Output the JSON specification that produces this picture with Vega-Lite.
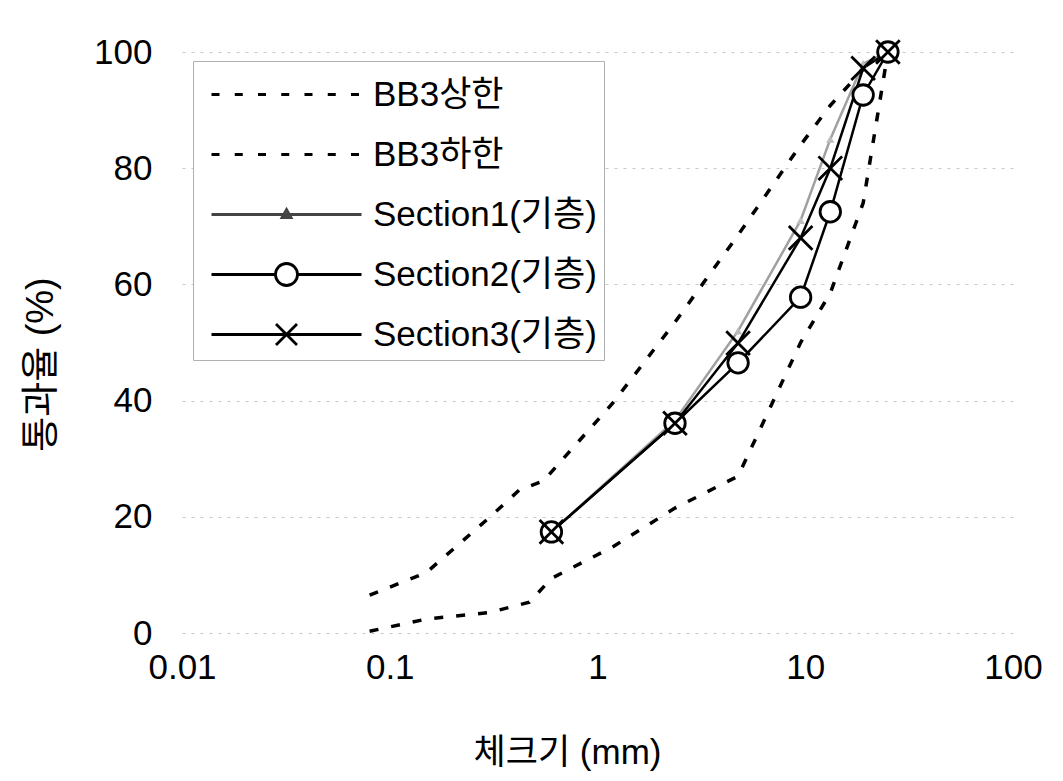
{
  "$schema": "https://vega.github.io/schema/vega-lite/v6.json",
  "width": 831,
  "height": 581,
  "autosize": {"type": "none"},
  "padding": {"left": 182, "top": 52, "right": 50, "bottom": 148},
  "background": "white",
  "config": {
    "view": {"stroke": null},
    "font": "Liberation Sans, Noto Sans CJK KR",
    "axis": {"labelColor": "black", "titleColor": "black", "titleFontWeight": "normal", "labelFont": "Liberation Sans, Noto Sans CJK KR", "titleFont": "Liberation Sans, Noto Sans CJK KR"}
  },
  "data": {
    "values": [
      {"series": "BB3상한", "size": 0.08, "pass": 6.5},
      {"series": "BB3상한", "size": 0.15, "pass": 10.4},
      {"series": "BB3상한", "size": 0.3, "pass": 19.8},
      {"series": "BB3상한", "size": 0.42, "pass": 24.6},
      {"series": "BB3상한", "size": 0.55, "pass": 26.2},
      {"series": "BB3상한", "size": 1.18, "pass": 39.5},
      {"series": "BB3상한", "size": 2.36, "pass": 53.5},
      {"series": "BB3상한", "size": 4.75, "pass": 68.5},
      {"series": "BB3상한", "size": 9.5, "pass": 84},
      {"series": "BB3상한", "size": 13.2, "pass": 90.8},
      {"series": "BB3상한", "size": 19, "pass": 97},
      {"series": "BB3상한", "size": 25, "pass": 100},
      {"series": "BB3하한", "size": 0.08, "pass": 0.3},
      {"series": "BB3하한", "size": 0.15, "pass": 2.4},
      {"series": "BB3하한", "size": 0.3, "pass": 3.5},
      {"series": "BB3하한", "size": 0.47, "pass": 5.3},
      {"series": "BB3하한", "size": 0.6, "pass": 9.4},
      {"series": "BB3하한", "size": 1.18, "pass": 14.8},
      {"series": "BB3하한", "size": 2.36, "pass": 21.5},
      {"series": "BB3하한", "size": 4.75, "pass": 27},
      {"series": "BB3하한", "size": 9.5, "pass": 50},
      {"series": "BB3하한", "size": 13.2, "pass": 58.5},
      {"series": "BB3하한", "size": 19, "pass": 74},
      {"series": "BB3하한", "size": 25, "pass": 100},
      {"series": "Section1(기층)", "size": 0.6, "pass": 17.4},
      {"series": "Section1(기층)", "size": 2.36, "pass": 36.6},
      {"series": "Section1(기층)", "size": 4.75, "pass": 52},
      {"series": "Section1(기층)", "size": 9.5, "pass": 71},
      {"series": "Section1(기층)", "size": 13.2, "pass": 85},
      {"series": "Section1(기층)", "size": 19, "pass": 98},
      {"series": "Section1(기층)", "size": 25, "pass": 100},
      {"series": "Section2(기층)", "size": 0.6, "pass": 17.4},
      {"series": "Section2(기층)", "size": 2.36, "pass": 36.1},
      {"series": "Section2(기층)", "size": 4.75, "pass": 46.5},
      {"series": "Section2(기층)", "size": 9.5, "pass": 57.8},
      {"series": "Section2(기층)", "size": 13.2, "pass": 72.5},
      {"series": "Section2(기층)", "size": 19, "pass": 92.6},
      {"series": "Section2(기층)", "size": 25, "pass": 100},
      {"series": "Section3(기층)", "size": 0.6, "pass": 17.4},
      {"series": "Section3(기층)", "size": 2.36, "pass": 36.1},
      {"series": "Section3(기층)", "size": 4.75, "pass": 49.9},
      {"series": "Section3(기층)", "size": 9.5, "pass": 68},
      {"series": "Section3(기층)", "size": 13.2, "pass": 80},
      {"series": "Section3(기층)", "size": 19, "pass": 97.2},
      {"series": "Section3(기층)", "size": 25, "pass": 100}
    ]
  },
  "encoding": {
    "x": {
      "field": "size", "type": "quantitative",
      "scale": {"type": "log", "domain": [0.01, 100], "nice": false},
      "axis": {
        "title": "체크기 (mm)", "values": [0.01, 0.1, 1, 10, 100], "format": "~g",
        "domain": false, "ticks": false, "grid": false, "labelFlush": false,
        "labelFontSize": 35, "labelPadding": 17, "titleFontSize": 35, "titlePadding": 50,
        "titleX": 385
      }
    },
    "y": {
      "field": "pass", "type": "quantitative",
      "scale": {"domain": [0, 100], "nice": false},
      "axis": {
        "title": "통과율 (%)", "values": [0, 20, 40, 60, 80, 100],
        "domain": false, "ticks": false, "grid": true, "gridColor": "#c8c8c8", "gridDash": [3, 6], "gridWidth": 1,
        "labelFontSize": 35, "labelPadding": 30, "titleFontSize": 38, "titlePadding": 33,
        "titleY": 312
      }
    }
  },
  "layer": [
    {
      "transform": [{"filter": "indexof(datum.series, 'BB3') == 0"}],
      "mark": {"type": "line", "color": "black", "strokeWidth": 3.5, "strokeDash": [9, 13]},
      "encoding": {"detail": {"field": "series"}}
    },
    {
      "transform": [{"filter": "datum.series == 'Section1(기층)'"}],
      "mark": {"type": "line", "color": "#a0a0a0", "strokeWidth": 2.5},
      "encoding": {}
    },
    {
      "transform": [{"filter": "datum.series == 'Section3(기층)' || datum.series == 'Section2(기층)'"}],
      "mark": {"type": "line", "color": "black", "strokeWidth": 2.5},
      "encoding": {"detail": {"field": "series"}}
    },
    {
      "transform": [{"filter": "datum.series == 'Section1(기층)'"}],
      "mark": {"type": "point", "shape": "triangle-up", "size": 70, "filled": true, "color": "#bdbdbd", "opacity": 1}
    },
    {
      "transform": [{"filter": "datum.series == 'Section2(기층)'"}],
      "mark": {"type": "point", "shape": "circle", "size": 420, "filled": true, "fill": "white", "stroke": "black", "strokeWidth": 2.8, "opacity": 1}
    },
    {
      "transform": [{"filter": "datum.series == 'Section3(기층)'"}],
      "mark": {"type": "point", "shape": "M-1,-1L1,1M1,-1L-1,1", "size": 560, "filled": false, "stroke": "black", "strokeWidth": 2.8, "opacity": 1}
    },
    {
      "mark": {"type": "point", "filled": false, "opacity": 0},
      "encoding": {
        "shape": {
          "field": "series", "type": "nominal",
          "scale": {
            "domain": ["BB3상한", "BB3하한", "Section1(기층)", "Section2(기층)", "Section3(기층)"],
            "range": [
              "M-3,0h0.32M-2.07,0h0.32M-1.14,0h0.32M-0.21,0h0.32M0.72,0h0.32M1.65,0h0.32M2.58,0h0.32",
              "M-3,0h0.32M-2.07,0h0.32M-1.14,0h0.32M-0.21,0h0.32M0.72,0h0.32M1.65,0h0.32M2.58,0h0.32",
              "M-3,0H3M0,-0.2L0.18,0.12L-0.18,0.12Z",
              "M-3,0H-0.44M0.44,0H3M-0.44,0A0.44,0.44 0 1,0 0.44,0A0.44,0.44 0 1,0 -0.44,0",
              "M-3,0H3M-0.42,-0.42L0.42,0.42M0.42,-0.42L-0.42,0.42"
            ]
          },
          "legend": {
            "title": null, "orient": "none", "legendX": 11, "legendY": 9,
            "symbolSize": 2500, "symbolStrokeWidth": 2.8, "symbolOffset": 60, "symbolOpacity": 1,
            "labelOffset": 60, "labelFontSize": 35, "labelLimit": 400, "labelColor": "black",
            "labelFont": "Liberation Sans, Noto Sans CJK KR",
            "rowPadding": 15, "padding": 7, "strokeColor": "#b0b0b0", "fillColor": "white"
          }
        },
        "color": {
          "field": "series", "type": "nominal",
          "scale": {
            "domain": ["BB3상한", "BB3하한", "Section1(기층)", "Section2(기층)", "Section3(기층)"],
            "range": ["black", "black", "#444444", "black", "black"]
          }
        }
      }
    }
  ]
}
